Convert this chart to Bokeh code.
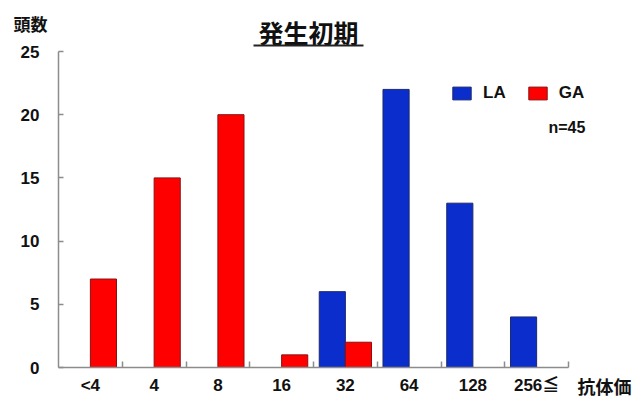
import numpy as np
from bokeh.plotting import figure
from bokeh.models import (ColumnDataSource, Range1d, FixedTicker, Legend, LegendItem,
                          Label, BoxAnnotation)
from bokeh.embed import file_html
from bokeh.resources import INLINE

# 抗体価の区分と頭数
titers = ["<4", "4", "8", "16", "32", "64", "128", "256≦"]
la_counts = [0, 0, 0, 0, 6, 22, 13, 4]
ga_counts = [7, 15, 20, 1, 2, 0, 0, 0]
y_ticks = [0, 5, 10, 15, 20, 25]
n_total = 45

LATIN = "Liberation Sans, Noto Sans CJK JP"
CJK = "Noto Sans CJK JP"

BLUE = "#0b2dcc"
RED = "#ff0000"
AXIS = "#8c8c8c"
INK = "#111111"

W, H = 632, 401
# plot area in canvas pixels: left/right/top/bottom of the value axes
AX_L, AX_R, AX_T, AX_B = 58, 568, 51, 367
n_cat = len(titers)
y_max = y_ticks[-1]
px_x = (AX_R - AX_L) / n_cat
px_y = (AX_B - AX_T) / y_max

idx = np.arange(n_cat)
centers = idx + 0.5
bar_w = 0.41

src = ColumnDataSource(dict(
    x_la=centers - bar_w / 2,
    x_ga=centers + bar_w / 2,
    la=la_counts,
    ga=ga_counts,
))

# the frame fills the whole canvas so that titles and legend are never clipped;
# the axes are pinned at x=0 / y=0 inside it
p = figure(width=W, height=H, output_backend="svg", toolbar_location=None,
           x_range=Range1d(-AX_L / px_x, n_cat + (W - AX_R) / px_x),
           y_range=Range1d(-(H - AX_B) / px_y, y_max + AX_T / px_y),
           min_border=0)
p.outline_line_color = None
p.xgrid.visible = False
p.ygrid.visible = False
p.background_fill_color = "white"
p.border_fill_color = "white"

r_la = p.vbar(x="x_la", top="la", width=bar_w, source=src,
              fill_color=BLUE, line_color="#1c2a6e", line_width=1)
r_ga = p.vbar(x="x_ga", top="ga", width=bar_w, source=src,
              fill_color=RED, line_color="#8a1010", line_width=1)

# x axis: labels at category centres, tick marks at category boundaries
xa = p.xaxis[0]
xa.fixed_location = 0
xa.bounds = (0, n_cat)
xa.ticker = FixedTicker(ticks=list(centers), minor_ticks=list(range(1, n_cat + 1)))
xa.major_label_overrides = {float(c): t for c, t in zip(centers, titers)}
xa.major_tick_in = 0
xa.major_tick_out = 0
xa.minor_tick_in = 6
xa.minor_tick_out = 0
xa.minor_tick_line_color = AXIS
xa.minor_tick_line_width = 1.5
xa.axis_line_color = AXIS
xa.axis_line_width = 1.5
xa.major_label_text_font = LATIN
xa.major_label_text_font_style = "bold"
xa.major_label_text_font_size = "17px"
xa.major_label_text_color = INK
xa.major_label_standoff = 8

ya = p.yaxis[0]
ya.fixed_location = 0
ya.bounds = (0, y_max)
ya.ticker = FixedTicker(ticks=y_ticks, minor_ticks=[])
ya.major_tick_in = 5
ya.major_tick_out = 0
ya.major_tick_line_color = AXIS
ya.major_tick_line_width = 1.5
ya.axis_line_color = AXIS
ya.axis_line_width = 1.5
ya.major_label_text_font = LATIN
ya.major_label_text_font_style = "bold"
ya.major_label_text_font_size = "17px"
ya.major_label_text_color = INK
ya.major_label_standoff = 19

legend = Legend(items=[LegendItem(label="LA", renderers=[r_la]),
                       LegendItem(label="GA", renderers=[r_ga])],
                orientation="horizontal", location=(450, H - 103),
                glyph_width=23, glyph_height=16, label_height=16,
                label_standoff=10, spacing=20, padding=0, margin=0,
                border_line_color=None, background_fill_alpha=0,
                label_text_font=LATIN, label_text_font_size="17px",
                label_text_font_style="bold", label_text_color=INK)
p.add_layout(legend)

# タイトル（下線付き）
p.add_layout(Label(x=308, y=H - 31, x_units="screen", y_units="screen", text="発生初期",
                   text_font=CJK, text_font_style="bold", text_font_size="25px",
                   text_align="center", text_baseline="middle", text_color=INK))
p.add_layout(BoxAnnotation(left=253, right=363, top=H - 44, bottom=H - 46,
                           left_units="screen", right_units="screen",
                           top_units="screen", bottom_units="screen",
                           fill_color="#222222", fill_alpha=1, line_color=None))

p.add_layout(Label(x=13, y=H - 23, x_units="screen", y_units="screen", text="頭数",
                   text_font=CJK, text_font_style="bold", text_font_size="17px",
                   text_align="left", text_baseline="middle", text_color=INK))
p.add_layout(Label(x=577, y=H - 385, x_units="screen", y_units="screen", text="抗体価",
                   text_font=CJK, text_font_style="bold", text_font_size="18px",
                   text_align="left", text_baseline="middle", text_color=INK))
p.add_layout(Label(x=548, y=H - 127, x_units="screen", y_units="screen", text=f"n={n_total}",
                   text_font=LATIN, text_font_style="bold", text_font_size="16px",
                   text_align="left", text_baseline="middle", text_color=INK))

open("out.html", "w").write(file_html(p, INLINE))
